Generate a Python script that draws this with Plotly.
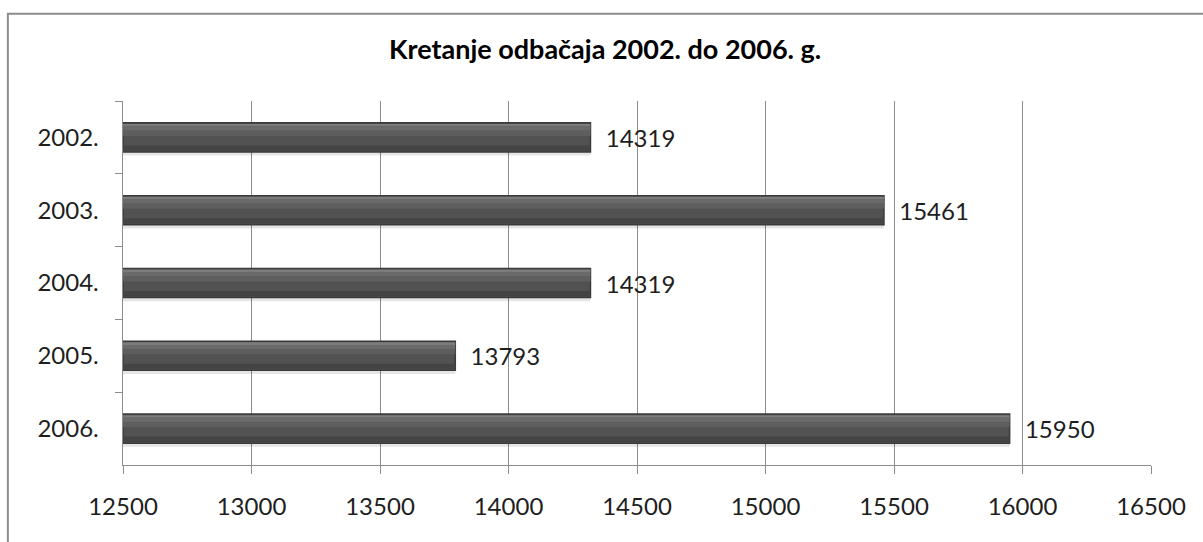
import plotly.graph_objects as go

years = ["2002.", "2003.", "2004.", "2005.", "2006."]
values = [14319, 15461, 14319, 13793, 15950]
x_ticks = [12500, 13000, 13500, 14000, 14500, 15000, 15500, 16000, 16500]
title = "Kretanje odbačaja 2002. do 2006. g."
axis_start = 12500

FONT = "Lato, 'Open Sans', sans-serif"
lengths = [v - axis_start for v in values]

fig = go.Figure()
# soft shadow under bars
fig.add_trace(go.Bar(
    y=years, x=lengths, base=axis_start, orientation="h",
    marker=dict(color="rgba(0,0,0,0.10)", line=dict(width=0)),
    width=0.05, offset=0.2, hoverinfo="skip",
))
# main bar
fig.add_trace(go.Bar(
    y=years, x=lengths, base=axis_start, orientation="h",
    marker=dict(color="#525252", line=dict(color="#3a3a3a", width=1.5)),
    width=0.4, offset=-0.2,
    text=["  " + str(v) for v in values], textposition="outside",
    textfont=dict(family=FONT, size=24, color="#1e1e1e"),
    cliponaxis=False, hoverinfo="skip",
))
# bevel / gradient stripes
for off, w, col in [(-0.185, 0.035, "#7c7c7c"), (-0.15, 0.06, "#6a6a6a"),
                    (-0.09, 0.07, "#5e5e5e"), (0.11, 0.075, "#444444")]:
    fig.add_trace(go.Bar(
        y=years, x=lengths, base=axis_start, orientation="h",
        marker=dict(color=col, line=dict(width=0)),
        width=w, offset=off, hoverinfo="skip",
    ))

fig.update_layout(
    width=1203, height=542,
    margin=dict(l=123, r=52, t=101, b=77),
    paper_bgcolor="white", plot_bgcolor="white",
    showlegend=False, barmode="overlay",
    title=dict(text="<b>" + title + "</b>", x=0.503, xanchor="center",
               y=0.908, yanchor="middle",
               font=dict(family=FONT, size=27, color="#000000")),
    font=dict(family=FONT, size=24, color="#1e1e1e"),
    xaxis=dict(range=[12500, 16500], tickvals=x_ticks, ticktext=[str(t) for t in x_ticks],
               showgrid=True, gridcolor="#8c8c8c", gridwidth=1,
               showline=True, linecolor="#8c8c8c", linewidth=1,
               ticks="outside", ticklen=8, tickcolor="#8c8c8c", ticklabelstandoff=12,
               zeroline=False, tickfont=dict(family=FONT, size=24, color="#1e1e1e")),
    yaxis=dict(categoryorder="array", categoryarray=years, autorange="reversed",
               showline=True, linecolor="#8c8c8c", linewidth=1,
               ticks="outside", ticklen=7, tickcolor="#8c8c8c", tickson="boundaries",
               showgrid=False, ticksuffix="   ",
               tickfont=dict(family=FONT, size=24, color="#1e1e1e")),
    shapes=[dict(type="rect", xref="paper", yref="paper",
                 x0=-0.112, x1=1.1, y0=-0.3, y1=1.24,
                 line=dict(color="#8c8c8c", width=2), fillcolor="rgba(0,0,0,0)", layer="below")],
)

fig.write_html("out.html", config={"displayModeBar": False},
               post_script="document.body.style.margin='0';")
